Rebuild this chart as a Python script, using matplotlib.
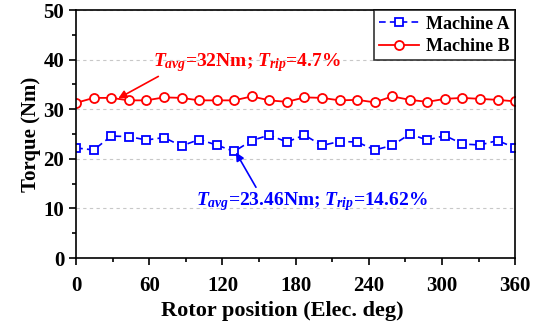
import numpy as np
import matplotlib.pyplot as plt
from matplotlib.ticker import MultipleLocator

plt.rcParams['font.family'] = ['Liberation Serif', 'DejaVu Serif']
plt.rcParams['font.weight'] = 'bold'
plt.rcParams['mathtext.fontset'] = 'custom'
plt.rcParams['mathtext.it'] = 'Liberation Serif:italic:bold'
plt.rcParams['mathtext.rm'] = 'Liberation Serif:bold'
plt.rcParams['mathtext.bf'] = 'Liberation Serif:bold'

# rotor position, 26 samples over one electrical period
position = np.linspace(0, 360, 26)

torque_a = [22.2, 21.8, 24.6, 24.5, 23.8, 24.3, 22.6, 23.9, 22.8, 21.5,
            23.7, 24.8, 23.4, 24.8, 22.7, 23.5, 23.4, 21.8, 22.7, 25.0,
            23.8, 24.7, 23.0, 22.8, 23.7, 22.2]
torque_b = [31.3, 32.3, 32.3, 31.8, 31.8, 32.4, 32.3, 31.8, 31.8, 31.8,
            32.6, 31.8, 31.5, 32.4, 32.3, 31.8, 31.9, 31.4, 32.6, 31.9,
            31.5, 32.1, 32.3, 32.1, 31.9, 31.6]

fig = plt.figure(figsize=(5.44, 3.27), dpi=100)
ax = fig.add_axes([0.14, 0.211, 0.807, 0.758])

ax.plot(position, torque_a, color='blue', linestyle='--', linewidth=1.2,
        marker='s', markersize=5.5, markerfacecolor='white', markeredgewidth=1.3,
        dashes=(4, 2.5), label='Machine A')
ax.plot(position, torque_b, color='red', linestyle='-', linewidth=1.3,
        marker='o', markersize=6.5, markerfacecolor='white', markeredgewidth=1.3,
        label='Machine B')

ax.annotate(r'$T_{avg}$=32Nm; $T_{rip}$=4.7%', xy=(34.5, 32.2), xytext=(63, 39.5),
            color='red', fontsize=14, va='center', ha='left',
            arrowprops=dict(arrowstyle='-|>', color='red', lw=1.2,
                            shrinkA=0, shrinkB=0, mutation_scale=12,
                            relpos=(0.1, 0.2)))
ax.annotate(r'$T_{avg}$=23.46Nm; $T_{rip}$=14.62%', xy=(131, 21.3), xytext=(98, 11.4),
            color='blue', fontsize=14, va='center', ha='left',
            arrowprops=dict(arrowstyle='-|>', color='blue', lw=1.2,
                            shrinkA=0, shrinkB=0, mutation_scale=12,
                            relpos=(0.27, 0.95)))

ax.set_xlim(0, 360)
ax.set_ylim(0, 50)
ax.xaxis.set_major_locator(MultipleLocator(60))
ax.xaxis.set_minor_locator(MultipleLocator(30))
ax.yaxis.set_major_locator(MultipleLocator(10))
ax.yaxis.set_minor_locator(MultipleLocator(5))
ax.tick_params(which='both', direction='out', width=1.2, labelsize=15)
ax.tick_params(which='major', length=5)
ax.tick_params(which='minor', length=3)
ax.tick_params(axis='x', which='major', pad=8)
for s in ax.spines.values():
    s.set_linewidth(1.2)

ax.grid(axis='y', which='major', linestyle=(0, (3, 3)), color='#c8c8c8', linewidth=0.8)
ax.set_axisbelow(True)

ax.set_xlabel('Rotor position (Elec. deg)', fontsize=16, fontweight='bold')
ax.xaxis.set_label_coords(0.469, -0.172)
ax.set_ylabel('Torque (Nm)', fontsize=15, fontweight='bold', labelpad=2)

leg = ax.legend(loc='upper right', fontsize=13, frameon=True, fancybox=False,
                edgecolor='black', borderaxespad=0, handlelength=2.2,
                borderpad=0.3, labelspacing=0.3, handletextpad=0.4)
leg.get_frame().set_linewidth(1.2)

fig.savefig('out.png', dpi=100)
